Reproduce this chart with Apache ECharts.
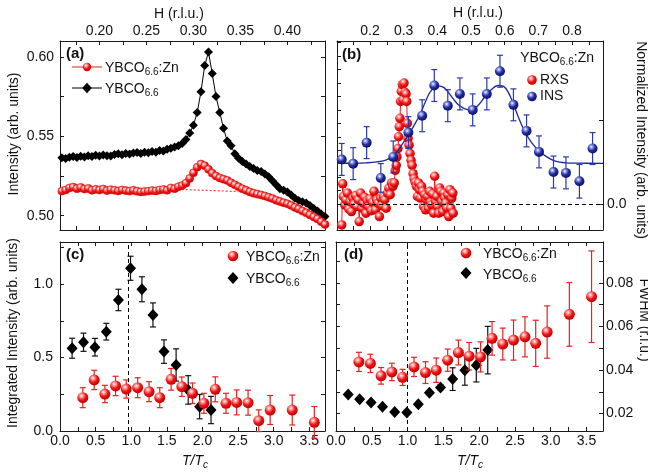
<!DOCTYPE html>
<html><head><meta charset="utf-8">
<script src="https://cdn.jsdelivr.net/npm/echarts@6/dist/echarts.min.js"></script>
<style>html,body{margin:0;padding:0;background:#fff}#c{width:648px;height:475px}</style>
</head><body><div id="c"></div>
<script>
// ---------- Panel (a): intensity vs H ----------
const aH = [0.160,0.164,0.168,0.172,0.176,0.180,0.184,0.188,0.192,0.196,
  0.200,0.204,0.208,0.212,0.216,0.220,0.224,0.228,0.232,0.236,
  0.240,0.244,0.248,0.252,0.256,0.260,0.264,0.268,0.272,0.276,
  0.280,0.284,0.288,0.292,0.296,0.300,0.304,0.308,0.312,0.316,
  0.320,0.324,0.328,0.332,0.336,0.340,0.344,0.348,0.352,0.356,
  0.360,0.364,0.368,0.372,0.376,0.380,0.384,0.388,0.392,0.396,
  0.400,0.404,0.408,0.412,0.416,0.420,0.424,0.428,0.432,0.436,0.440];
const aBlack = [0.5365,0.5360,0.5368,0.5372,0.5366,0.5375,0.5370,0.5378,0.5372,0.5380,
  0.5376,0.5382,0.5378,0.5376,0.5385,0.5390,0.5384,0.5392,0.5388,0.5395,
  0.5398,0.5392,0.5400,0.5396,0.5404,0.5400,0.5410,0.5408,0.5418,0.5425,
  0.5432,0.5440,0.5455,0.5480,0.5520,0.5570,0.5650,0.5780,0.5945,0.6030,
  0.5895,0.5750,0.5650,0.5550,0.5470,0.5440,0.5390,0.5362,0.5342,0.5325,
  0.5310,0.5298,0.5285,0.5278,0.5262,0.5245,0.5220,0.5195,0.5170,0.5160,
  0.5150,0.5130,0.5110,0.5095,0.5088,0.5080,0.5065,0.5045,0.5030,0.5010,0.4995];
const aRed = [0.5155,0.5162,0.5175,0.5180,0.5170,0.5178,0.5168,0.5172,0.5160,0.5166,
  0.5162,0.5168,0.5158,0.5164,0.5160,0.5156,0.5162,0.5158,0.5155,0.5160,
  0.5154,0.5150,0.5152,0.5155,0.5158,0.5156,0.5162,0.5165,0.5160,0.5175,
  0.5170,0.5182,0.5190,0.5205,0.5235,0.5270,0.5305,0.5325,0.5315,0.5292,
  0.5268,0.5250,0.5238,0.5230,0.5222,0.5208,0.5195,0.5182,0.5170,0.5160,
  0.5150,0.5142,0.5136,0.5130,0.5124,0.5116,0.5108,0.5098,0.5090,0.5082,
  0.5075,0.5065,0.5052,0.5042,0.5030,0.5018,0.5005,0.4992,0.4980,0.4962,0.4945];
const aBaseH = [0.279, 0.348];
const aBaseY = [0.5167, 0.5152];

// ---------- Panel (b): RXS and INS vs H ----------
const rxs = [[0.116,-0.25],[0.119,0.24],[0.121,0.09],[0.125,-0.01],[0.128,0.05],[0.133,0.13],[0.137,-0.06],
  [0.141,0.03],[0.145,-0.09],[0.149,0.07],[0.153,0.00],[0.157,0.10],[0.161,-0.03],[0.165,0.05],[0.168,-0.21],
  [0.172,0.13],[0.176,-0.05],[0.180,0.01],[0.184,0.08],[0.188,-0.11],[0.192,0.04],[0.196,-0.03],[0.200,0.06],
  [0.204,-0.08],[0.208,0.02],[0.212,0.15],[0.216,-0.07],[0.220,0.05],[0.224,0.01],[0.228,-0.15],[0.232,0.07],
  [0.236,-0.02],[0.240,0.09],[0.244,0.05],[0.248,-0.05],[0.252,0.13],[0.256,0.19],[0.260,0.11],[0.264,0.25],
  [0.268,0.21],[0.272,0.25],[0.275,0.40],[0.278,0.46],[0.280,0.56],[0.283,0.66],[0.285,0.80],[0.287,0.92],
  [0.289,1.02],[0.291,1.22],[0.293,1.34],[0.296,1.42],[0.298,1.24],[0.301,1.44],[0.304,1.33],[0.307,1.31],
  [0.309,1.22],[0.311,0.96],[0.313,0.78],[0.316,0.70],[0.319,0.60],[0.322,0.52],[0.325,0.46],[0.328,0.36],
  [0.331,0.30],[0.334,0.26],[0.338,0.21],[0.341,0.09],[0.344,0.25],[0.347,0.17],[0.350,0.07],[0.353,0.21],
  [0.356,0.15],[0.359,-0.03],[0.362,0.11],[0.365,-0.07],[0.368,0.05],[0.371,0.09],[0.374,-0.05],[0.377,0.15],
  [0.380,0.02],[0.383,-0.01],[0.386,0.12],[0.389,-0.11],[0.392,0.33],[0.395,0.03],[0.398,0.09],[0.401,-0.03],
  [0.404,-0.11],[0.407,0.19],[0.410,0.15],[0.413,0.03],[0.416,-0.09],[0.419,0.13],[0.422,0.07],[0.425,0.01],
  [0.428,-0.05],[0.431,0.11],[0.434,-0.15],[0.437,0.17],[0.440,-0.05],[0.443,0.07],[0.446,0.13],[0.447,-0.11]];
const insH = [0.116,0.150,0.190,0.232,0.269,0.314,0.355,0.391,0.431,0.467,0.505,0.547,0.586,0.626,0.665,0.702,0.745,0.782,0.822,0.861];
const insY = [0.53,0.48,0.73,0.31,0.56,0.85,1.05,1.41,1.17,1.31,1.12,1.31,1.58,1.18,0.87,0.62,0.38,0.37,0.27,0.66];
const insE = [0.19,0.19,0.19,0.17,0.19,0.19,0.19,0.19,0.19,0.19,0.19,0.19,0.19,0.19,0.19,0.19,0.19,0.19,0.20,0.19];
const fitH = [0.102,0.15,0.19,0.22,0.245,0.27,0.29,0.314,0.33,0.348,0.365,0.38,0.40,0.42,0.44,0.46,0.48,0.50,
  0.52,0.54,0.56,0.58,0.60,0.62,0.64,0.66,0.68,0.70,0.725,0.75,0.78,0.82,0.892];
const fitY = [0.484,0.485,0.49,0.50,0.52,0.57,0.68,0.82,0.93,1.06,1.22,1.34,1.405,1.385,1.29,1.19,1.135,1.12,
  1.17,1.27,1.36,1.41,1.39,1.25,1.04,0.86,0.73,0.64,0.56,0.51,0.49,0.485,0.484];

// ---------- Panels (c) and (d): vs T/Tc ----------
const znT = [0.32,0.48,0.63,0.78,0.93,1.09,1.25,1.40,1.56,1.71,1.86,2.02,2.18,2.33,2.48,2.64,2.79,2.95,3.26,3.57];
const pureT = [0.17,0.33,0.49,0.65,0.82,0.99,1.15,1.305,1.46,1.63,1.80,1.96,2.12];
const cZnY = [0.227,0.348,0.252,0.307,0.286,0.295,0.268,0.227,0.352,0.302,0.257,0.189,0.284,0.189,0.195,0.193,0.07,0.143,0.143,0.059];
const cZnE = [0.068,0.066,0.059,0.066,0.062,0.068,0.068,0.068,0.074,0.066,0.07,0.068,0.085,0.068,0.085,0.085,0.074,0.099,0.102,0.108];
const cPureY = [0.564,0.605,0.571,0.677,0.893,1.109,0.966,0.791,0.541,0.45,0.28,0.166,0.143];
const cPureE = [0.068,0.062,0.06,0.057,0.073,0.082,0.085,0.082,0.08,0.11,0.097,0.083,0.093];
const dZnY = [0.0437,0.043,0.0373,0.0391,0.0366,0.0414,0.0388,0.0399,0.0445,0.048,0.0463,0.046,0.0545,0.0519,0.0537,0.0552,0.0522,0.0574,0.0655,0.0736];
const dZnE = [0.0044,0.0042,0.0038,0.004,0.0037,0.0044,0.005,0.0056,0.0051,0.0057,0.0063,0.0069,0.0077,0.0073,0.0092,0.0092,0.0106,0.012,0.0146,0.021];
const dPureY = [0.0287,0.0266,0.0251,0.0231,0.0207,0.0205,0.0243,0.0295,0.032,0.0358,0.0399,0.0422,0.0491];
const dPureE = [0.0008,0.0008,0.0008,0.0008,0.0008,0.0008,0.0008,0.0008,0.0012,0.0052,0.0069,0.0077,0.0109];

// ---------- tick values and labels ----------
const aXTicks = [0.175,0.2,0.225,0.25,0.275,0.3,0.325,0.35,0.375,0.4,0.425];
const aXLabels = [0.2,0.25,0.3,0.35,0.4];
const aYTicks = [0.5,0.525,0.55,0.575,0.6];
const aYLabels = [0.5,0.55,0.6];
const bXTicks = [0.15,0.2,0.25,0.3,0.35,0.4,0.45,0.5,0.55,0.6,0.65,0.7,0.75,0.8,0.85];
const bXLabels = [0.2,0.3,0.4,0.5,0.6,0.7,0.8];
const bYRightTicks = [0,1];
const bYRightLabels = [0];
const bYLeftTicks = [0,0.16,0.32,0.48,0.64,0.8,0.96,1.12,1.28,1.44,1.6,1.76,1.92];
const tTicks = [0,0.25,0.5,0.75,1,1.25,1.5,1.75,2,2.25,2.5,2.75,3,3.25,3.5];
const tLabels = [0,0.5,1,1.5,2,2.5,3,3.5];
const cYTicks = [0,0.25,0.5,0.75,1,1.25];
const cYLabels = [0,0.5,1];
const dYTicks = [0.02,0.03,0.04,0.05,0.06,0.07,0.08,0.09];
const dYLabels = [0.02,0.04,0.06,0.08];
const tcLineC = 0.96, tcLineD = 1.0;

const F = "'Liberation Sans', Arial, Helvetica, sans-serif";
const zip = (xs, ys) => xs.map((x, i) => [x, ys[i]]);
const zip3 = (xs, ys, es) => xs.map((x, i) => [x, ys[i], es[i]]);

const redBall = {type:'radial', x:0.38, y:0.33, r:0.7, colorStops:[
  {offset:0,color:'#ffffff'},{offset:0.22,color:'#ff9a9a'},{offset:0.55,color:'#f21414'},{offset:1,color:'#b80000'}]};
const blueBall = {type:'radial', x:0.38, y:0.33, r:0.7, colorStops:[
  {offset:0,color:'#ffffff'},{offset:0.22,color:'#8c96e0'},{offset:0.55,color:'#1f2c9e'},{offset:1,color:'#0a1060'}]};

function ax(gridIndex, position, min, max, ticks, labels, fmt, margin) {
  return {type:'value', gridIndex, position, min, max,
    axisLine:{show:true, onZero:false, lineStyle:{color:'#1a1a1a', width:1}},
    axisTick:{show:true, inside:true, length:4, customValues:ticks, lineStyle:{color:'#1a1a1a', width:1}},
    axisLabel:{show:!!labels, customValues:labels || undefined, formatter:fmt, margin:margin || 4,
      color:'#111', fontSize:14, fontFamily:F},
    splitLine:{show:false}};
}
const f1 = v => Number(v).toFixed(1), f2 = v => Number(v).toFixed(2);

function errRender(color, cap, lw) {
  return function (params, api) {
    const x = api.value(0), y = api.value(1), e = api.value(2);
    const lo = api.coord([x, y - e]), hi = api.coord([x, y + e]);
    const st = {stroke:color, lineWidth:lw || 1.2};
    return {type:'group', children:[
      {type:'line', shape:{x1:lo[0], y1:lo[1], x2:hi[0], y2:hi[1]}, style:st},
      {type:'line', shape:{x1:lo[0]-cap, y1:lo[1], x2:lo[0]+cap, y2:lo[1]}, style:st},
      {type:'line', shape:{x1:hi[0]-cap, y1:hi[1], x2:hi[0]+cap, y2:hi[1]}, style:st}]};
  };
}

const subRich = {
  n:{fontSize:14, fontFamily:F, fill:'#111', lineHeight:18},
  s:{fontSize:10, fontFamily:F, fill:'#111', lineHeight:10, padding:[8,0,0,0]},
  i:{fontSize:14, fontFamily:F, fill:'#111', fontStyle:'italic', lineHeight:18},
  si:{fontSize:10, fontFamily:F, fill:'#111', fontStyle:'italic', lineHeight:10, padding:[8,0,0,0]}
};
function rtext(x, y, text, align, rot) {
  return {type:'text', x, y, rotation:rot || 0, z:100,
    style:{text, rich:subRich, align:align || 'left', verticalAlign:'middle', textAlign:align || 'left', textVerticalAlign:'middle'}};
}
function ptext(x, y, text, font, align, rot) {
  return {type:'text', x, y, rotation:rot || 0, z:100,
    style:{text, font:font, fill:'#111', align:align || 'left', verticalAlign:'middle', textAlign:align || 'left', textVerticalAlign:'middle'}};
}
function ball(cx, cy, r, fill) { return {type:'circle', z:100, shape:{cx, cy, r}, style:{fill}}; }
function diam(cx, cy, w, h) { return {type:'polygon', z:100, shape:{points:[[cx,cy-h],[cx+w,cy],[cx,cy+h],[cx-w,cy]]}, style:{fill:'#000'}}; }
function hline(x1, x2, y, color) { return {type:'line', z:99, shape:{x1, y1:y, x2, y2:y}, style:{stroke:color, lineWidth:1}}; }

const ZN = '{n|YBCO}{s|6.6}{n|:Zn}', PURE = '{n|YBCO}{s|6.6}';
const TTC = '{i|T/T}{si|c}';
const BF = `bold 15px ${F}`, NF = `14px ${F}`;

const option = {
  animation:false,
  backgroundColor:'#fff',
  grid:[
    {left:60, top:41, width:265, height:189},
    {left:337, top:41, width:266, height:189},
    {left:60, top:242, width:265, height:189},
    {left:336, top:242, width:267, height:189}
  ],
  xAxis:[
    ax(0,'top',0.158,0.44,aXTicks,aXLabels,f2,3),
    ax(0,'bottom',0.158,0.44,aXTicks,null),
    ax(1,'top',0.102,0.892,bXTicks,bXLabels,f1,3),
    ax(1,'bottom',0.102,0.892,bXTicks,null),
    ax(2,'bottom',0,3.72,tTicks,tLabels,f1,3),
    ax(2,'top',0,3.72,tTicks,null),
    ax(3,'bottom',0,3.73,tTicks,tLabels,f1,3),
    ax(3,'top',0,3.73,tTicks,null)
  ],
  yAxis:[
    ax(0,'left',0.491,0.61,aYTicks,aYLabels,f2,6),
    ax(0,'right',0.491,0.61,aYTicks,null),
    ax(1,'right',-0.31,1.94,bYRightTicks,bYRightLabels,f1,4),
    ax(1,'left',-0.31,1.94,bYLeftTicks,null),
    ax(2,'left',0,1.288,cYTicks,cYLabels,f1,7),
    ax(2,'right',0,1.288,cYTicks,null),
    ax(3,'right',0.012,0.0987,dYTicks,dYLabels,f2,3),
    ax(3,'left',0.012,0.0987,dYTicks,null)
  ],
  series:[
    // (a)
    {type:'line', xAxisIndex:0, yAxisIndex:0, data:zip(aBaseH, aBaseY), symbol:'none',
      lineStyle:{color:'#f03c3c', width:1.2, type:[2,2]}, z:1},
    {type:'line', xAxisIndex:0, yAxisIndex:0, data:zip(aH, aBlack), symbol:'diamond', symbolSize:9,
      showAllSymbol:true, itemStyle:{color:'#000'}, lineStyle:{color:'#000', width:1}, z:2},
    {type:'line', xAxisIndex:0, yAxisIndex:0, data:zip(aH, aRed), symbol:'circle', symbolSize:8,
      showAllSymbol:true, itemStyle:{color:redBall, borderColor:'#e01010', borderWidth:0.6}, lineStyle:{color:'#e00', width:1}, z:3},
    // (b)
    {type:'line', xAxisIndex:2, yAxisIndex:2, data:rxs, symbol:'circle', symbolSize:9.5, showAllSymbol:true,
      itemStyle:{color:redBall}, lineStyle:{color:'#ee1a1a', width:1}, z:2,
      markLine:{silent:true, symbol:['none','none'], label:{show:false},
        lineStyle:{color:'#000', type:[4,3], width:1}, data:[{yAxis:0}]}},
    {type:'line', xAxisIndex:2, yAxisIndex:2, data:zip(fitH, fitY), symbol:'none', smooth:0.4,
      lineStyle:{color:'#1a2a9a', width:1.3}, z:3},
    {type:'custom', xAxisIndex:2, yAxisIndex:2, data:zip3(insH, insY, insE), renderItem:errRender('#2a3aa8',3,1.2), z:4},
    {type:'scatter', xAxisIndex:2, yAxisIndex:2, data:zip(insH, insY), symbol:'circle', symbolSize:10,
      itemStyle:{color:blueBall, opacity:1}, z:5},
    // (c)
    {type:'custom', xAxisIndex:4, yAxisIndex:4, data:zip3(pureT, cPureY, cPureE), renderItem:errRender('#111',3,1.2), z:2},
    {type:'scatter', xAxisIndex:4, yAxisIndex:4, data:zip(pureT, cPureY), symbol:'diamond', symbolSize:[11,12],
      itemStyle:{color:'#000', opacity:1}, z:3,
      markLine:{silent:true, symbol:['none','none'], label:{show:false},
        lineStyle:{color:'#000', type:[4,3], width:1}, data:[{xAxis:tcLineC}]}},
    {type:'custom', xAxisIndex:4, yAxisIndex:4, data:zip3(znT, cZnY, cZnE), renderItem:errRender('#e82020',3,1.2), z:4},
    {type:'scatter', xAxisIndex:4, yAxisIndex:4, data:zip(znT, cZnY), symbol:'circle', symbolSize:11,
      itemStyle:{color:redBall, opacity:1}, z:5},
    // (d)
    {type:'custom', xAxisIndex:6, yAxisIndex:6, data:zip3(pureT, dPureY, dPureE), renderItem:errRender('#111',3,1.2), z:2},
    {type:'scatter', xAxisIndex:6, yAxisIndex:6, data:zip(pureT, dPureY), symbol:'diamond', symbolSize:[11,12],
      itemStyle:{color:'#000', opacity:1}, z:3,
      markLine:{silent:true, symbol:['none','none'], label:{show:false},
        lineStyle:{color:'#000', type:[4,3], width:1}, data:[{xAxis:tcLineD}]}},
    {type:'custom', xAxisIndex:6, yAxisIndex:6, data:zip3(znT, dZnY, dZnE), renderItem:errRender('#e82020',3,1.2), z:4},
    {type:'scatter', xAxisIndex:6, yAxisIndex:6, data:zip(znT, dZnY), symbol:'circle', symbolSize:11,
      itemStyle:{color:redBall, opacity:1}, z:5}
  ],
  graphic:[
    // panel tags
    ptext(66, 54, '(a)', BF), ptext(342, 55, '(b)', BF), ptext(66, 255, '(c)', BF), ptext(344, 255, '(d)', BF),
    // axis titles
    ptext(179, 14, 'H (r.l.u.)', NF, 'center'),
    ptext(478, 13, 'H (r.l.u.)', NF, 'center'),
    ptext(14, 134, 'Intensity (arb. units)', NF, 'center', Math.PI/2),
    ptext(13, 333, 'Integrated Intensity (arb. units)', NF, 'center', Math.PI/2),
    ptext(641, 140, 'Normalized Intensity (arb. units)', NF, 'center', -Math.PI/2),
    ptext(644, 320, 'FWHM (r.l.u.)', NF, 'center', -Math.PI/2),
    rtext(195, 461, TTC, 'center'),
    rtext(470, 461, TTC, 'center'),
    // legend (a)
    hline(72, 102, 67, '#e81c1c'), ball(87, 67, 4.2, redBall), rtext(105, 68, ZN),
    hline(72, 102, 88, '#000'), diam(87, 88, 4.8, 5.2), rtext(105, 89, PURE),
    // legend (b)
    rtext(594, 58, ZN, 'right'),
    ball(532, 80, 4.8, redBall), ptext(540, 80, 'RXS', NF),
    ball(532, 96.5, 4.8, blueBall), ptext(540, 96.5, 'INS', NF),
    // legend (c)
    ball(233, 256, 5.3, redBall), rtext(246, 257, ZN),
    diam(233, 278, 5.5, 6), rtext(246, 279, PURE),
    // legend (d)
    ball(466, 253, 5.3, redBall), rtext(483, 254, ZN),
    diam(466, 273, 5.5, 6), rtext(483, 275, PURE)
  ]
};
const chart = echarts.init(document.getElementById('c'), null, {renderer:'canvas', width:648, height:475});
chart.setOption(option);
</script></body></html>
